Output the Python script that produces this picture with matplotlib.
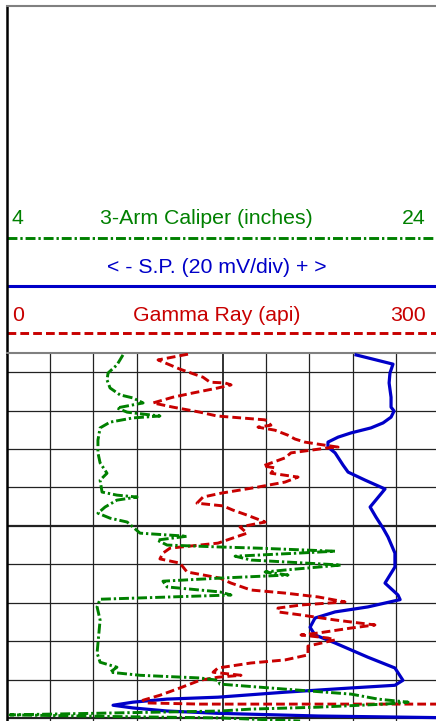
import matplotlib
matplotlib.use("Agg")
import matplotlib.pyplot as plt
import numpy as np

plt.rcParams['font.family'] = ['Liberation Sans', 'DejaVu Sans']

# --- well log readings (depth in ft) ---
gr_depth = [5055.3, 5056.8, 5059.2, 5061.3, 5062.6, 5062.8, 5063.3, 5064.1, 5065.4, 5066.5,
            5068.0, 5069.1, 5070.4, 5071.4, 5072.4, 5073.8, 5074.3, 5075.1, 5076.4, 5077.4,
            5078.2, 5079.0, 5079.5, 5079.7, 5081.0, 5082.3, 5084.4, 5084.9, 5086.3, 5087.3,
            5088.6, 5089.9, 5091.5, 5092.5, 5094.1, 5094.8, 5095.9, 5097.2, 5099.0, 5100.3,
            5101.9, 5104.5, 5105.8, 5107.1, 5108.6, 5109.7, 5112.0, 5113.6, 5114.9, 5116.7,
            5117.5, 5118.5, 5119.8, 5120.6, 5121.4, 5122.4, 5123.2, 5124.5, 5125.8, 5126.6,
            5127.9, 5128.4, 5129.2, 5129.7, 5131.3, 5133.6, 5134.9, 5135.7, 5137.0, 5138.1,
            5138.9, 5139.4, 5140.2, 5142.2, 5144.1, 5145.4, 5146.1, 5146.4, 5146.4]
gr_api = [125.7, 104.9, 120.1, 136.1, 141.0, 151.4, 155.6, 146.5, 129.2, 115.3,
          101.4, 115.3, 134.0, 145.8, 179.2, 183.3, 174.3, 186.1, 195.1, 200.0,
          206.9, 220.8, 229.9, 222.9, 197.2, 193.1, 177.8, 186.1, 183.3, 202.1,
          193.1, 174.3, 148.6, 136.1, 131.9, 150.0, 156.9, 166.7, 179.2, 161.8,
          166.7, 146.5, 113.2, 108.3, 106.2, 120.1, 125.0, 147.9, 155.6, 169.4,
          193.1, 216.0, 234.7, 204.2, 188.2, 188.2, 204.2, 227.8, 255.5, 238.9,
          216.0, 204.2, 222.9, 227.8, 209.0, 209.0, 193.1, 169.4, 146.5, 143.1,
          162.5, 146.5, 134.0, 120.1, 106.2, 94.4, 97.2, 134.0, 320.0]

cal_depth = [5055.5, 5056.8, 5058.1, 5060.2, 5062.0, 5064.1, 5065.9, 5066.7, 5068.0, 5069.3,
             5070.4, 5070.9, 5071.4, 5071.9, 5073.0, 5074.5, 5077.7, 5081.0, 5083.6, 5086.3,
             5088.1, 5091.2, 5092.0, 5092.5, 5093.3, 5095.1, 5096.7, 5098.0, 5099.0, 5100.3,
             5101.9, 5102.7, 5103.7, 5105.0, 5105.5, 5105.8, 5106.6, 5107.1, 5107.9, 5108.9,
             5110.2, 5111.5, 5112.0, 5112.8, 5113.6, 5114.4, 5115.9, 5117.2, 5118.0, 5119.1,
             5121.1, 5124.5, 5133.1, 5135.5, 5136.8, 5138.1, 5138.9, 5139.6, 5140.2, 5141.2,
             5142.5, 5143.8, 5145.1, 5145.9, 5146.4, 5147.2, 5147.7, 5148.2, 5149.2, 5149.6,
             5150.0, 5150.8]
cal_in = [9.37, 9.23, 9.09, 8.68, 8.63, 8.77, 9.23, 9.83, 10.30, 9.09,
          9.56, 10.30, 11.08, 9.83, 8.77, 8.31, 8.21, 8.21, 8.31, 8.63,
          8.31, 8.40, 9.09, 10.02, 9.09, 8.54, 8.21, 8.77, 9.56, 9.83,
          10.16, 12.33, 10.95, 11.41, 13.86, 15.62, 19.19, 17.47, 14.56, 15.30,
          19.46, 16.87, 15.95, 17.01, 13.86, 11.22, 11.41, 13.86, 14.37, 8.31,
          8.17, 8.31, 8.17, 8.31, 9.09, 8.77, 10.16, 12.94, 13.77, 13.86,
          16.87, 19.93, 21.18, 22.57, 21.50, 18.40, 15.30, 13.86, 4.14, 8.50,
          13.86, 17.57]

sp_depth = [5055.5, 5057.9, 5060.2, 5062.8, 5066.5, 5069.1, 5070.1, 5071.7, 5073.2, 5074.5,
            5075.8, 5076.9, 5078.2, 5079.5, 5081.0, 5084.2, 5086.0, 5088.1, 5090.4, 5095.1,
            5097.7, 5100.6, 5102.9, 5107.1, 5110.7, 5114.9, 5118.0, 5119.2, 5121.1, 5122.4,
            5124.0, 5126.4, 5128.4, 5130.5, 5134.2, 5137.0, 5140.2, 5141.5, 5142.2, 5143.3,
            5144.6, 5145.1, 5145.9, 5146.7, 5147.4, 5148.2, 5148.8, 5149.5, 5150.0]
sp_mv = [61.6, 78.7, 77.3, 76.9, 77.8, 77.8, 79.2, 77.8, 74.1, 68.5,
         59.3, 53.3, 48.6, 48.6, 51.9, 55.6, 57.9, 65.8, 75.0, 68.1,
         70.8, 74.1, 76.4, 79.6, 79.6, 75.0, 81.0, 82.0, 67.1, 51.9,
         42.6, 40.3, 42.6, 51.9, 67.1, 79.6, 83.3, 79.6, 59.3, 28.7,
         -2.3, -25.9, -41.7, -50.9, -41.7, -25.9, -2.3, 44.0, 110.0]

# scales
gr_range = (0, 300)
cal_range = (4, 24)
sp_left, sp_per_div = -100, 20
n_div = 10
depth_top, depth_bot = 5055, 5150.8

GREEN = '#008000'
RED = '#C80000'
BLUE = '#0000C8'
dash_red = (0, (3.0, 1.4))
dash_green = (0, (3.4, 1.0, 0.8, 1.0))

W, H = 436, 721
fig = plt.figure(figsize=(W / 100, H / 100), dpi=100)

# header
hx0, htop, hbot = 7, 6, 353
hdr = fig.add_axes([hx0 / W, 1 - hbot / H, (W - hx0) / W, (hbot - htop) / H])
hdr.set_xlim(0, 1)
hdr.set_ylim(hbot, htop)
hdr.set_xticks([])
hdr.set_yticks([])
for s in ['right', 'bottom']:
    hdr.spines[s].set_visible(False)
hdr.spines['top'].set_color('#808080')
hdr.spines['top'].set_linewidth(1.5)
hdr.spines['left'].set_color('black')
hdr.spines['left'].set_linewidth(1.8)

fs = 15.3
hdr.plot([0, 1], [237.7, 237.7], color=GREEN, lw=2.1, ls=dash_green)
hdr.plot([0, 1], [285.7, 285.7], color=BLUE, lw=2.2)
hdr.plot([0, 1], [333.3, 333.3], color=RED, lw=2.1, ls=dash_red)
hdr.text(0.025, 219, str(cal_range[0]), color=GREEN, fontsize=fs, ha='center', va='center')
hdr.text(0.464, 219, '3-Arm Caliper (inches)', color=GREEN, fontsize=fs, ha='center', va='center')
hdr.text(0.975, 219, str(cal_range[1]), color=GREEN, fontsize=fs, ha='right', va='center')
hdr.text(0.489, 268, '< - S.P. (20 mV/div) + >', color=BLUE, fontsize=fs, ha='center', va='center')
hdr.text(0.025, 316, str(gr_range[0]), color=RED, fontsize=fs, ha='center', va='center')
hdr.text(0.489, 316, 'Gamma Ray (api)', color=RED, fontsize=fs, ha='center', va='center')
hdr.text(0.975, 316, str(gr_range[1]), color=RED, fontsize=fs, ha='right', va='center')

# track
tw = 43.2 * n_div
ax = fig.add_axes([hx0 / W, 0, tw / W, (H - hbot) / H])
ax.set_xlim(0, n_div)
ax.set_ylim(depth_bot, depth_top)
ax.set_xticks([])
ax.set_yticks([])
for s in ['right', 'bottom']:
    ax.spines[s].set_visible(False)
ax.spines['top'].set_color('#808080')
ax.spines['top'].set_linewidth(1.5)
ax.spines['left'].set_color('black')
ax.spines['left'].set_linewidth(1.8)

for d in range(5060, 5151, 10):
    ax.axhline(d, color='#222222', lw=1.6 if d % 50 == 0 else 0.9, zorder=1)
for k in range(1, n_div + 1):
    ax.axvline(k, color='#222222', lw=1.3 if k == 5 else 0.9, zorder=1)

gr_x = np.array(gr_api) / ((gr_range[1] - gr_range[0]) / n_div)
cal_x = (np.array(cal_in) - cal_range[0]) / ((cal_range[1] - cal_range[0]) / n_div)
sp_x = (np.array(sp_mv) - sp_left) / sp_per_div

ax.plot(sp_x, sp_depth, color=BLUE, lw=2.3, zorder=3, solid_joinstyle='round')
ax.plot(gr_x, gr_depth, color=RED, lw=2.1, ls=dash_red, zorder=4)
ax.plot(cal_x, cal_depth, color=GREEN, lw=2.1, ls=dash_green, zorder=5)

fig.savefig('out.png', dpi=100)
